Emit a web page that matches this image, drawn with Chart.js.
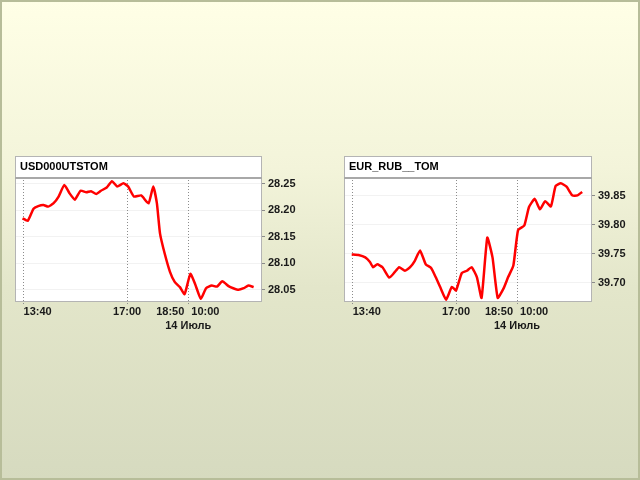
<!DOCTYPE html>
<html lang="ru">
<head>
    <meta charset="UTF-8">
    <title>USD000UTSTOM / EUR_RUB__TOM</title>
    <script src="https://cdn.jsdelivr.net/npm/chart.js"></script>
    <style>
        html, body {
            margin: 0;
            padding: 0;
        }
        body {
            width: 640px;
            height: 480px;
            box-sizing: border-box;
            border: 2px solid #b7bd99;
            background: linear-gradient(to bottom, #ffffe6 0%, #f3f4da 35%, #e3e6ca 60%, #d6dabf 100%);
            position: relative;
            overflow: hidden;
            font-family: "Liberation Sans", Arial, sans-serif;
        }
        .chartBox {
            position: absolute;
            width: 300px;
            height: 190px;
        }
    </style>
</head>
<body>
    <div class="chartBox" style="left:8px; top:144px;"><canvas id="usdChart"></canvas></div>
    <div class="chartBox" style="left:337px; top:144px; width:301px;"><canvas id="eurChart"></canvas></div>

<script>
    // time in trading minutes from 13:40 (evening break removed)
    const usdTimes = [0, 10, 21, 30, 40, 49, 59, 69, 80, 90, 100, 111, 122, 131, 141, 150, 161, 171, 181, 193,
        202, 213, 227, 241, 250, 257, 263, 272, 282, 291, 301, 310, 321, 330, 341, 351, 362, 372, 382, 394,
        403, 413, 423, 432, 442];
    const usdValues = [28.185, 28.180, 28.203, 28.208, 28.210, 28.207, 28.213, 28.226, 28.248, 28.232,
        28.220, 28.237, 28.234, 28.236, 28.231, 28.237, 28.243, 28.255, 28.245, 28.251,
        28.245, 28.226, 28.228, 28.213, 28.245, 28.213, 28.156, 28.118, 28.084, 28.065,
        28.055, 28.042, 28.080, 28.061, 28.033, 28.053, 28.058, 28.056, 28.066, 28.057,
        28.053, 28.050, 28.053, 28.058, 28.055];

    const eurTimes = [0, 13, 26, 35, 41, 49, 59, 72, 82, 91, 102, 112, 121, 131, 142, 152, 161, 171, 181, 192,
        200, 211, 221, 230, 240, 249, 260, 270, 280, 291, 300, 310, 319, 331, 340, 351, 361, 371, 382, 391,
        401, 412, 423, 433, 442];
    const eurValues = [39.749, 39.748, 39.744, 39.736, 39.727, 39.732, 39.727, 39.709, 39.718, 39.727,
        39.721, 39.727, 39.738, 39.756, 39.732, 39.726, 39.710, 39.690, 39.671, 39.693,
        39.687, 39.717, 39.721, 39.727, 39.710, 39.674, 39.778, 39.744, 39.674, 39.690,
        39.710, 39.730, 39.791, 39.799, 39.831, 39.845, 39.827, 39.841, 39.832, 39.867,
        39.872, 39.866, 39.851, 39.851, 39.857];

    const usdTicks = [28.05, 28.10, 28.15, 28.20, 28.25];
    const eurTicks = [39.70, 39.75, 39.80, 39.85];

    const gridTimes = [0, 200, 317];
    const timeLabels = ['13:40', '17:00', '18:50', '10:00'];
    const timeLabelAt = [0, 200, 317, 317];
    const timeLabelAlign = ['left', 'center', 'right', 'left'];
    const dateLabel = '14 Июль';
    const dateLabelAt = 317;

    const FONT = '"Liberation Sans", Arial, sans-serif';

    const framePlugin = {
        id: 'frame',
        beforeDraw(chart, args, opts) {
            const a = chart.chartArea;
            const ctx = chart.ctx;
            ctx.save();
            ctx.fillStyle = '#ffffff';
            ctx.fillRect(a.left, a.top - 22, a.right - a.left, a.bottom - a.top + 22);
            ctx.restore();
        },
        beforeDatasetsDraw(chart) {
            // dotted session lines
            const a = chart.chartArea;
            const ctx = chart.ctx;
            const x = chart.scales.x;
            ctx.save();
            ctx.strokeStyle = '#8c8c8c';
            ctx.lineWidth = 1;
            ctx.setLineDash([1, 2]);
            gridTimes.forEach(t => {
                const px = Math.round(x.getPixelForValue(t)) + 0.5;
                ctx.beginPath();
                ctx.moveTo(px, a.top + 2);
                ctx.lineTo(px, a.bottom + 3);
                ctx.stroke();
            });
            ctx.restore();
        },
        afterDraw(chart, args, opts) {
            const a = chart.chartArea;
            const ctx = chart.ctx;
            const x = chart.scales.x;
            ctx.save();
            // outer frame
            ctx.strokeStyle = '#b4b4b4';
            ctx.lineWidth = 1;
            ctx.strokeRect(a.left + 0.5, a.top - 22 + 0.5, a.right - a.left - 1, a.bottom - a.top + 22 - 1);
            ctx.strokeStyle = '#a8a8a8';
            ctx.lineWidth = 2;
            ctx.beginPath();
            ctx.moveTo(a.left, a.top);
            ctx.lineTo(a.right, a.top);
            ctx.stroke();
            // title
            ctx.fillStyle = '#000';
            ctx.font = 'bold 11px ' + FONT;
            ctx.textAlign = 'left';
            ctx.textBaseline = 'middle';
            ctx.fillText(opts.title, a.left + 5, a.top - 11);
            // time labels
            ctx.fillStyle = '#1a1a1a';
            timeLabels.forEach((t, i) => {
                const px = x.getPixelForValue(timeLabelAt[i]);
                const al = timeLabelAlign[i];
                ctx.textAlign = al;
                const off = al === 'left' ? (i === 0 ? 1 : 3) : (al === 'right' ? -4 : 0);
                ctx.fillText(t, px + off, a.bottom + 10);
            });
            ctx.textAlign = 'center';
            ctx.fillText(dateLabel, x.getPixelForValue(dateLabelAt), a.bottom + 24);
            ctx.restore();
        }
    };

    function makeChart(id, title, times, values, ticks, yMin, yMax, xMin, xMax) {
        const ctx = document.getElementById(id).getContext('2d');
        return new Chart(ctx, {
            type: 'line',
            data: {
                datasets: [{
                    data: times.map((t, i) => ({ x: t, y: values[i] })),
                    borderColor: '#ff0000',
                    borderWidth: 2.5,
                    pointRadius: 0,
                    tension: 0.15,
                    fill: false
                }]
            },
            options: {
                responsive: true,
                maintainAspectRatio: false,
                animation: false,
                layout: { padding: { left: 5, right: 4, top: 32, bottom: 0 } },
                plugins: {
                    legend: { display: false },
                    tooltip: { enabled: false },
                    frame: { title: title }
                },
                scales: {
                    x: {
                        type: 'linear',
                        min: xMin,
                        max: xMax,
                        afterFit: s => { s.height = 34; },
                        ticks: { display: false },
                        grid: { display: false },
                        border: { display: false }
                    },
                    y: {
                        position: 'right',
                        min: yMin,
                        max: yMax,
                        afterBuildTicks: s => { s.ticks = ticks.map(v => ({ value: v })); },
                        afterFit: s => { s.width = 44; },
                        ticks: {
                            padding: 3,
                            color: '#1a1a1a',
                            font: { family: FONT, size: 11, weight: 'bold' },
                            callback: v => v.toFixed(2)
                        },
                        grid: {
                            color: 'rgba(0,0,0,0.05)',
                            tickLength: 3,
                            tickColor: '#8a8a8a'
                        },
                        border: { display: false }
                    }
                }
            },
            plugins: [framePlugin]
        });
    }

    makeChart('usdChart', 'USD000UTSTOM', usdTimes, usdValues, usdTicks, 28.027, 28.261, -14.4, 458);
    makeChart('eurChart', 'EUR_RUB__TOM', eurTimes, eurValues, eurTicks, 39.667, 39.881, -14.8, 460.8);
</script>

</body>
</html>
